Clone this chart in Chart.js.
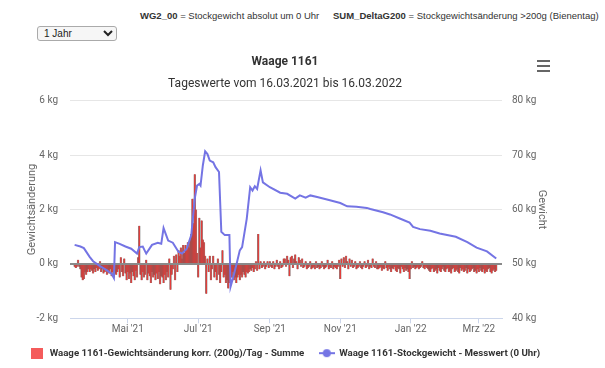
<!DOCTYPE html>
<html><head><meta charset="utf-8">
<script src="https://cdn.jsdelivr.net/npm/chart.js@4"></script>
<style>
html,body{margin:0;padding:0;background:#fff;width:605px;height:368px;overflow:hidden;font-family:Roboto,"Liberation Sans",Arial,sans-serif;}
.hdr{position:absolute;top:10px;font-family:"Liberation Sans",Arial,sans-serif;font-size:9.5px;color:#333;white-space:nowrap;}
.hdr b{font-weight:bold;}
#h1{left:140px;}
#h2{left:333px;}
#sel{position:absolute;left:37px;top:26px;width:80px;height:15px;font-size:10px;font-family:"Liberation Sans",Arial,sans-serif;padding:0 0 0 2px;border:1px solid #aaa;border-radius:3px;background:#f6f6f6;color:#222;}
#menu{position:absolute;left:537px;top:60px;width:13px;height:12px;}
#menu span{display:block;height:2px;background:#666;margin-bottom:3px;}
#wrap{position:absolute;left:0;top:45px;width:570px;height:323px;}
</style></head>
<body>
<div class="hdr" id="h1"><b>WG2_00</b> = Stockgewicht absolut um 0 Uhr</div>
<div class="hdr" id="h2"><b>SUM_DeltaG200</b> = Stockgewichtsänderung &gt;200g (Bienentag)</div>
<select id="sel"><option>1 Jahr</option></select>
<div id="wrap"><canvas id="c" width="570" height="323"></canvas></div>
<div id="menu"><span></span><span></span><span></span></div>
<script>
// ---- data (day index 0 = 16.03.2021) ----
const changeMar21 = [-0.1,-0.15,-0.1,0.15,-0.1,-0.2,-0.5,-0.6,-0.55,-0.3,-0.4,-0.3,-0.2,-0.3,-0.2,-0.25];
const changeApr21 = [-0.35,-0.2,-0.3,-0.15,-0.25,-0.2,0.1,-0.3,-0.2,-0.35,-0.3,-0.2,-0.4,-0.25,-0.35,-0.2,-0.45,-0.3,-0.5,-0.35,-0.4,-0.3,-0.2,-0.5,0.25,-0.3,-0.45,0.2,-0.35,-0.6];
const changeMay21 = [-0.3,-0.55,-0.35,-0.7,-0.3,-0.45,-0.6,-0.25,-0.5,0.25,1.4,-0.4,-0.6,-0.3,-0.5,-0.4,0.15,-0.6,-0.35,-0.45,-0.7,-0.3,-0.5,-0.4,-0.6,-0.35,-0.55,-0.3,-0.75,-0.45,-0.5];
const changeJun21 = [-0.7,-0.4,-0.6,-0.3,-0.5,0.2,-0.95,-0.4,-0.2,0.3,-0.6,0.35,-0.3,0.5,0.3,0.6,0.2,0.7,0.4,0.7,0.5,0.8,0.6,0.9,1.1,2.4,1.5,3.3,2.0,0.4];
const changeJul21 = [-0.5,1.7,0.6,1.6,0.9,0.8,0.3,-1.1,0.2,-0.3,0.3,-0.6,-0.2,0.3,-0.5,-0.3,-0.6,0.2,-0.4,-0.7,-0.3,0.5,-0.5,-0.4,-0.7,-0.6,-0.9,-0.7,-0.5,-0.5,-0.3];
const changeAug21 = [-0.6,-0.5,-0.7,-0.5,-0.4,-0.6,-0.4,-0.5,-0.3,-0.4,-0.5,-0.3,-0.35,-0.3,-0.2,-0.25,-0.15,-0.3,-0.2,0.1,-0.25,1.1,-0.2,0.1,-0.15,-0.1,0.1,-0.2,-0.1,0.1,-0.15];
const changeSep21 = [0.1,-0.1,-0.15,0.1,-0.2,-0.1,0.15,-0.1,-0.2,0.1,-0.15,-0.1,0.2,0.2,-0.1,0.3,0.15,-0.45,0.25,0.3,-0.15,0.2,0.35,0.1,-0.2,0.25,0.15,-0.1,0.2,-0.15];
const changeOct21 = [-0.1,0.1,-0.2,-0.15,-0.1,0.1,-0.2,-0.15,-0.1,-0.2,0.1,-0.15,-0.1,-0.2,-0.15,0.1,-0.1,-0.2,-0.15,-0.1,0.15,-0.2,-0.1,-0.15,0.1,-0.2,-0.1,-0.15,-0.2,-0.1,0.15];
const changeNov21 = [-0.55,0.2,-0.1,0.25,-0.15,0.3,0.1,-0.2,0.2,-0.1,0.15,-0.15,-0.1,0.1,-0.2,-0.15,-0.1,0.1,-0.15,-0.2,-0.1,0.1,-0.15,-0.1,0.15,-0.2,-0.1,-0.15,0.2,-0.1];
const changeDec21 = [-0.15,0.1,-0.2,-0.2,-0.15,-0.1,-0.25,-0.15,-0.2,0.1,-0.15,-0.25,-0.1,-0.2,-0.3,-0.15,-0.2,-0.1,-0.25,-0.3,-0.15,-0.2,-0.35,-0.1,-0.2,-0.3,-0.15,-0.25,-0.2,-0.3,-0.55];
const changeJan22 = [-0.2,0.1,-0.15,-0.1,-0.2,-0.15,-0.1,-0.2,-0.15,-0.1,0.1,-0.15,-0.2,-0.1,-0.15,-0.2,-0.25,-0.3,-0.2,-0.15,-0.3,-0.25,-0.2,-0.35,-0.15,-0.25,-0.3,-0.2,-0.1,-0.25,-0.3];
const changeFeb22 = [-0.2,-0.15,-0.3,-0.25,-0.35,-0.2,-0.15,-0.3,-0.25,-0.2,-0.3,-0.35,-0.15,-0.25,-0.2,-0.3,-0.25,-0.15,-0.35,-0.2,-0.3,-0.25,-0.2,-0.15,-0.3,-0.25,-0.35,-0.2];
const changeMar22 = [-0.3,-0.15,-0.25,-0.3,-0.2,-0.35,-0.25,-0.3,-0.2,-0.15,-0.3,-0.35,-0.25,-0.2,-0.3,-0.25];
const monthStartDays = [0,16,46,77,107,138,169,199,230,260,291,322,350];

const weightDays = [0,5,8,13,16,22,28,32,34,35,39,44,49,54,56,59,62,67,72,75,77,81,85,90,93,97,101,104,106,108,109,111,113,115,117,120,122,125,127,130,134,135,137,140,143,145,149,152,154,156,158,161,163,169,178,184,191,195,200,204,210,221,230,236,244,253,256,267,273,282,290,293,299,308,316,330,340,348,357,365];
const weightKg   = [53.5,53.2,52.9,51.3,50.5,49.6,48.8,48.2,47.4,54.0,53.7,53.2,52.8,51.9,53.1,53.2,51.9,53.5,53.9,53.7,56.6,54.3,53.9,52.2,51.9,52.8,55.3,62.0,64.4,64.7,64.4,68.1,70.7,70.2,69.0,68.7,67.8,66.9,55.9,55.3,55.3,45.8,47.3,49.8,52.5,53.1,58.3,64.1,63.5,64.3,63.8,67.2,65.0,64.1,63.1,62.9,62.0,62.6,62.2,62.6,62.3,61.7,61.2,60.6,60.5,60.3,60.1,59.5,59.1,58.3,57.6,56.8,56.4,56.1,55.6,55.0,54.0,53.0,52.3,51.0];

const tickDays   = [46,107,169,230,291,350];
const tickLabels = ["Mai '21","Jul '21","Sep '21","Nov '21","Jan '22","Mrz '22"];
const leftTicks  = [-2,0,2,4,6];
const rightTicks = [40,50,60,70,80];

// ---- build datasets ----
const months = [changeMar21,changeApr21,changeMay21,changeJun21,changeJul21,changeAug21,changeSep21,changeOct21,changeNov21,changeDec21,changeJan22,changeFeb22,changeMar22];
const barData = [];
months.forEach((arr,m)=>arr.forEach((v,i)=>barData.push({x:monthStartDays[m]+i,y:v})));
const lineData = weightDays.map((d,i)=>({x:d,y:weightKg[i]}));

const FONT = 'Roboto';
const LINE_COLOR = '#7474e4';
const BAR_COLOR = '#e33d3a';

function sq(){const c=document.createElement('canvas');c.width=12;c.height=11;const g=c.getContext('2d');g.fillStyle='#f45b5b';g.fillRect(0,0,12,11);return c;}
function ln(){const c=document.createElement('canvas');c.width=16;c.height=10;const g=c.getContext('2d');g.strokeStyle=LINE_COLOR;g.lineWidth=2;g.beginPath();g.moveTo(0,5);g.lineTo(16,5);g.stroke();g.fillStyle=LINE_COLOR;g.beginPath();g.arc(8,5,4,0,Math.PI*2);g.fill();return c;}
const sqImg=sq(), lnImg=ln();

new Chart(document.getElementById('c'),{
  data:{datasets:[
    {type:'bar',label:'Waage 1161-Gewichtsänderung korr. (200g)/Tag - Summe',data:barData,yAxisID:'y',xAxisID:'x',
     backgroundColor:BAR_COLOR,borderColor:'rgba(95,95,95,0.75)',borderWidth:{left:0.6,right:0.6,top:0,bottom:0},barThickness:1.9,borderSkipped:false,order:1},
    {type:'line',label:'Waage 1161-Stockgewicht - Messwert (0 Uhr)',data:lineData,yAxisID:'y1',xAxisID:'x',
     borderColor:LINE_COLOR,borderWidth:2,pointRadius:0,tension:0,fill:false,order:-1}
  ]},
  options:{
    responsive:false,animation:false,devicePixelRatio:1,
    layout:{padding:{left:0,right:0,top:0,bottom:0}},
    plugins:{
      tooltip:{enabled:false},
      title:{display:true,text:'Waage 1161',color:'#333',font:{family:FONT,size:12,weight:'bold'},padding:{top:10,bottom:7}},
      subtitle:{display:true,text:'Tageswerte vom 16.03.2021 bis 16.03.2022',color:'#333',font:{family:FONT,size:12},padding:{top:0,bottom:10}},
      legend:{position:'bottom',labels:{usePointStyle:true,pointStyleWidth:15,padding:15,color:'#333',font:{family:FONT,size:9.7,weight:'bold'},
        generateLabels:()=>[
          {text:'Waage 1161-Gewichtsänderung korr. (200g)/Tag - Summe',pointStyle:sqImg,fillStyle:'#f45b5b',strokeStyle:'#f45b5b',lineWidth:0,hidden:false,datasetIndex:0,fontColor:'#333'},
          {text:'Waage 1161-Stockgewicht - Messwert (0 Uhr)',pointStyle:lnImg,fillStyle:LINE_COLOR,strokeStyle:LINE_COLOR,lineWidth:0,hidden:false,datasetIndex:1,fontColor:'#333'}
        ]}}
    },
    scales:{
      x:{type:'linear',position:'bottom',min:-4,max:370,offset:false,
        afterBuildTicks:s=>{s.ticks=tickDays.map(v=>({value:v}));},
        ticks:{autoSkip:false,maxRotation:0,padding:0,color:'#666',font:{family:FONT,size:10},callback:v=>tickLabels[tickDays.indexOf(v)]},
        grid:{drawOnChartArea:false,drawTicks:true,tickLength:5,color:'#ccd6eb',offset:false},
        border:{display:true,color:'#ccd6eb'},
        afterFit:s=>{s.height=15;}},
      y:{type:'linear',position:'left',min:-2,max:6,
        afterBuildTicks:s=>{s.ticks=leftTicks.map(v=>({value:v}));},
        ticks:{padding:12,color:'#666',font:{family:FONT,size:10},callback:v=>v+' kg'},
        grid:{drawTicks:false,color:c=>c.tick&&c.tick.value===0?'#8a8a8a':'#e6e6e6',lineWidth:c=>c.tick&&c.tick.value===0?2:1},
        border:{display:false},
        title:{display:true,text:'Gewichtsänderung',color:'#666',font:{family:FONT,size:11},padding:{top:26,bottom:0}},
        afterFit:s=>{s.width=70;}},
      y1:{type:'linear',position:'right',min:40,max:80,
        afterBuildTicks:s=>{s.ticks=rightTicks.map(v=>({value:v}));},
        ticks:{padding:10,color:'#666',font:{family:FONT,size:10},callback:v=>v+' kg'},
        grid:{drawOnChartArea:false,drawTicks:false},
        border:{display:false},
        title:{display:true,text:'Gewicht',color:'#666',font:{family:FONT,size:11},padding:{top:22,bottom:0}},
        afterFit:s=>{s.width=68;}}
    }
  }
});
</script>
</body></html>
